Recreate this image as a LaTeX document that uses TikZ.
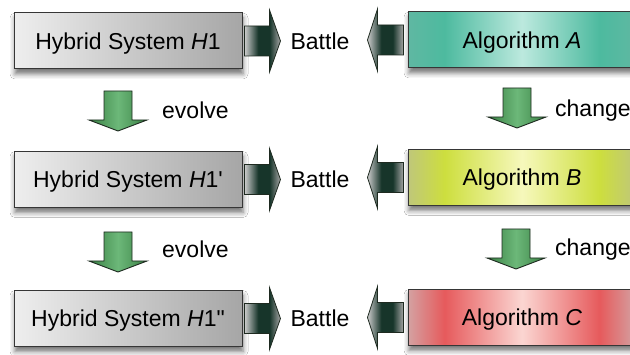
\documentclass[tikz,border=0pt]{standalone}
\usepackage{fontspec}
\setmainfont{Liberation Sans}[Ligatures=TeXOff]
\usetikzlibrary{shadows.blur}

% box and arrow colours
\definecolor{boxline}{HTML}{363636}
\definecolor{arrowline}{HTML}{1E2A20}
\definecolor{hybL}{HTML}{EEEEEE}
\definecolor{hybR}{HTML}{A6A6A6}
\definecolor{tealE}{HTML}{5FB8A2}
\definecolor{tealS}{HTML}{4DBA9F}
\definecolor{tealL}{HTML}{BCE9DE}
\definecolor{limeE}{HTML}{BFC77A}
\definecolor{limeS}{HTML}{CDDE3E}
\definecolor{limeL}{HTML}{F6F8BC}
\definecolor{redE}{HTML}{D4A2A2}
\definecolor{redS}{HTML}{E65A5C}
\definecolor{redL}{HTML}{FBD6D2}
\definecolor{grnE}{HTML}{3A8044}
\definecolor{grnL}{HTML}{6CB879}
\definecolor{darkfight}{HTML}{17352A}

% horizontal shadings (visible part runs from 25bp to 75bp)
\pgfdeclarehorizontalshading{hybshade}{100bp}{color(0bp)=(hybL); color(25bp)=(hybL); color(75bp)=(hybR); color(100bp)=(hybR)}
\pgfdeclarehorizontalshading{algAshade}{100bp}{color(0bp)=(tealE); color(25bp)=(tealE); color(33bp)=(tealS); color(50bp)=(tealL); color(67bp)=(tealS); color(75bp)=(tealE); color(100bp)=(tealE)}
\pgfdeclarehorizontalshading{algBshade}{100bp}{color(0bp)=(limeE); color(25bp)=(limeE); color(33bp)=(limeS); color(50bp)=(limeL); color(67bp)=(limeS); color(75bp)=(limeE); color(100bp)=(limeE)}
\pgfdeclarehorizontalshading{algCshade}{100bp}{color(0bp)=(redE); color(25bp)=(redE); color(33bp)=(redS); color(50bp)=(redL); color(67bp)=(redS); color(75bp)=(redE); color(100bp)=(redE)}
\pgfdeclarehorizontalshading{grnshade}{100bp}{color(0bp)=(grnE); color(25bp)=(grnE); color(50bp)=(grnL); color(75bp)=(grnE); color(100bp)=(grnE)}
\pgfdeclarehorizontalshading{fightshade}{100bp}{color(0bp)=(black!20); color(25bp)=(black!20); color(44bp)=(darkfight); color(60bp)=(darkfight); color(75bp)=(black!35); color(100bp)=(black!35)}

\tikzset{
  lab/.style={inner sep=0pt, font=\fontsize{23}{27}\selectfont, text=black},
  boxtext/.style={lab, text height=16.5pt, text depth=0pt},
  sysbox/.style={boxtext, draw=boxline, line width=1pt, minimum width=228pt,
    minimum height=56pt, shading=hybshade,
    blur shadow={shadow xshift=1pt, shadow yshift=-5pt, shadow blur radius=5pt, shadow opacity=55}},
  algbox/.style={sysbox},
  greenarrow/.style={draw=arrowline, line width=0.9pt, shading=grnshade, line join=miter},
  fightarrow/.style={draw=arrowline, line width=0.8pt, shading=fightshade, line join=miter},
  pics/evolvearrow/.style={code={
    \path[greenarrow] (-14,0) -- (14,0) -- (14,29) -- (29,29) -- (0,40)
      -- (-29,29) -- (-14,29) -- cycle;}},
  pics/fightright/.style={code={
    \path[fightarrow] (0,-15) -- (25,-15) -- (25,-31) -- (36,0) -- (25,31)
      -- (25,15) -- (0,15) -- cycle;}},
  pics/fightleft/.style={code={
    \path[fightarrow] (0,-15) -- (-26,-15) -- (-26,-31) -- (-36,0) -- (-26,31)
      -- (-26,15) -- (0,15) -- cycle;}},
}

\begin{document}
\begin{tikzpicture}[x=1pt, y=-1pt]
  \useasboundingbox (0,0) rectangle (630,355);
  \fill[white] (0,0) rectangle (630,355);
  \clip (0,0) rectangle (630,355);

  % hybrid systems
  \node[sysbox] (h1) at (128,41) {Hybrid System \textit{H}1};
  \node[sysbox] (h2) at (128,179.5) {Hybrid System \textit{H}1'};
  \node[sysbox] (h3) at (128,318.5) {Hybrid System \textit{H}1"};

  % algorithms
  \node[algbox, shading=algAshade] (a1) at (522,40) {Algorithm \textit{A}};
  \node[algbox, shading=algBshade] (a2) at (522,177.5) {Algorithm \textit{B}};
  \node[algbox, shading=algCshade] (a3) at (522,317.5) {Algorithm \textit{C}};

  % battle labels
  \node[boxtext] (b1) at (320,41) {Battle};
  \node[boxtext] (b2) at (320,179.5) {Battle};
  \node[boxtext] (b3) at (320,318.5) {Battle};

  % battle arrows
  \pic at ([xshift=2pt]h1.east) {fightright};
  \pic at ([xshift=2pt]h2.east) {fightright};
  \pic at ([xshift=2pt]h3.east) {fightright};
  \pic at ([xshift=-4pt]a1.west) {fightleft};
  \pic at ([xshift=-4pt]a2.west) {fightleft};
  \pic at ([xshift=-4pt]a3.west) {fightleft};

  % evolution and change arrows
  \pic at (118,91) {evolvearrow};
  \pic at (118,232) {evolvearrow};
  \pic at (517,88) {evolvearrow};
  \pic at (516,229) {evolvearrow};

  \node[lab, anchor=base west] (e1) at (162,119) {evolve};
  \node[lab, anchor=base west] (e2) at (162,258) {evolve};
  \node[lab, anchor=base west] (c1) at (555,117) {change};
  \node[lab, anchor=base west] (c2) at (555,256) {change};
\end{tikzpicture}
\end{document}
